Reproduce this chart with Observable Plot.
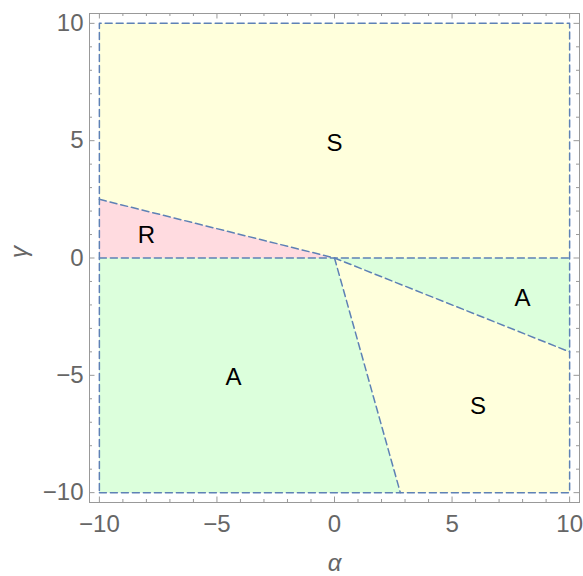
<!DOCTYPE html>
<html>
<head>
<meta charset="utf-8">
<script src="https://cdn.jsdelivr.net/npm/d3@7"></script>
<script src="https://cdn.jsdelivr.net/npm/@observablehq/plot@0.6"></script>
<style>
  html, body { margin: 0; padding: 0; background: #fff; }
  #chart svg { display: block; }
</style>
</head>
<body>
<div id="chart"></div>
<script>
// Region polygons (alpha, gamma)
const regionTopS   = [[-10, 2.5], [0, 0], [10, 0], [10, 10], [-10, 10]];
const regionR      = [[-10, 0], [-10, 2.5], [0, 0]];
const regionRightA = [[0, 0], [10, 0], [10, -4]];
const regionLowS   = [[0, 0], [10, -4], [10, -10], [2.8, -10]];
const regionLeftA  = [[-10, 0], [0, 0], [2.8, -10], [-10, -10]];

// Boundary lines (dashed)
const boundaryOuter  = [[-10, -10], [10, -10], [10, 10], [-10, 10], [-10, -10]];
const boundaryZero   = [[-10, 0], [10, 0]];
const boundaryUpper  = [[-10, 2.5], [0, 0], [10, -4]];
const boundaryLower  = [[0, 0], [2.8, -10]];

// Region labels
const labelText = ["S", "R", "A", "A", "S"];
const labelX    = [0, -8, 8, -4.3, 6.1];
const labelY    = [4.9, 0.95, -1.7, -5.1, -6.3];

// Ticks
const majorTicks = [-10, -5, 0, 5, 10];
const minorTicks = d3.range(-10, 11).filter(v => v % 5 !== 0);

const domain = [-10.42, 10.42];
const fmt = d => d < 0 ? "\u2212" + (-d) : String(d);

const cYellow = "#ffffdc";
const cRed = "#ffdbe0";
const cGreen = "#dcffdc";
const cLine = "#5e81b5";
const cFrame = "#999999";
const cText = "#666666";

const polys = [
  {pts: regionTopS, fill: cYellow},
  {pts: regionR, fill: cRed},
  {pts: regionRightA, fill: cGreen},
  {pts: regionLowS, fill: cYellow},
  {pts: regionLeftA, fill: cGreen}
];
const polyRows = polys.flatMap((p, i) => p.pts.map(([x, y]) => ({x, y, id: i, fill: p.fill})));

const lines = [boundaryOuter, boundaryZero, boundaryUpper, boundaryLower];
const lineRows = lines.flatMap((l, i) => l.map(([x, y]) => ({x, y, id: i})));

const labels = labelText.map((t, i) => ({t, x: labelX[i], y: labelY[i]}));

const frameH = 576 - 13 - 74;
const frameW = 583 - 89 - 4;
const majorLen = 5.5, minorLen = 3;

const chart = Plot.plot({
  width: 583,
  height: 576,
  marginLeft: 89,
  marginRight: 4,
  marginTop: 13,
  marginBottom: 74,
  style: {fontFamily: "Liberation Sans, Arial, sans-serif", background: "#fff"},
  x: {domain, label: null},
  y: {domain, label: null},
  marks: [
    Plot.line(polyRows, {x: "x", y: "y", z: "id", fill: "fill", stroke: "none", curve: "linear-closed"}),
    Plot.line(lineRows, {x: "x", y: "y", z: "id", stroke: cLine, strokeWidth: 1.5, strokeDasharray: "7,4"}),
    Plot.text(labels, {x: "x", y: "y", text: "t", fontSize: 24, fill: "#000"}),
    Plot.frame({stroke: cFrame, strokeWidth: 1}),
    // ticks inward: bottom, top, left, right
    Plot.ruleX(majorTicks, {x: d => d, stroke: cFrame, insetTop: frameH - majorLen}),
    Plot.ruleX(minorTicks, {x: d => d, stroke: cFrame, insetTop: frameH - minorLen}),
    Plot.ruleX(majorTicks, {x: d => d, stroke: cFrame, insetBottom: frameH - majorLen}),
    Plot.ruleX(minorTicks, {x: d => d, stroke: cFrame, insetBottom: frameH - minorLen}),
    Plot.ruleY(majorTicks, {y: d => d, stroke: cFrame, insetRight: frameW - majorLen}),
    Plot.ruleY(minorTicks, {y: d => d, stroke: cFrame, insetRight: frameW - minorLen}),
    Plot.ruleY(majorTicks, {y: d => d, stroke: cFrame, insetLeft: frameW - majorLen}),
    Plot.ruleY(minorTicks, {y: d => d, stroke: cFrame, insetLeft: frameW - minorLen}),
    Plot.axisX(majorTicks, {anchor: "bottom", tickSize: 0, tickPadding: 12, tickFormat: fmt, fontSize: 24, fill: cText, label: null}),
    Plot.axisY(majorTicks, {anchor: "left", tickSize: 0, tickPadding: 6, tickFormat: fmt, fontSize: 24, fill: cText, label: null}),
    Plot.text(["\u03b1"], {frameAnchor: "bottom", dy: 68, fontSize: 24, fontStyle: "italic", fill: cText}),
    Plot.text(["\u03b3"], {frameAnchor: "left", dx: -70, rotate: -90, fontSize: 24, fontStyle: "italic", fill: cText})
  ]
});
document.getElementById("chart").appendChild(chart);
</script>
</body>
</html>
